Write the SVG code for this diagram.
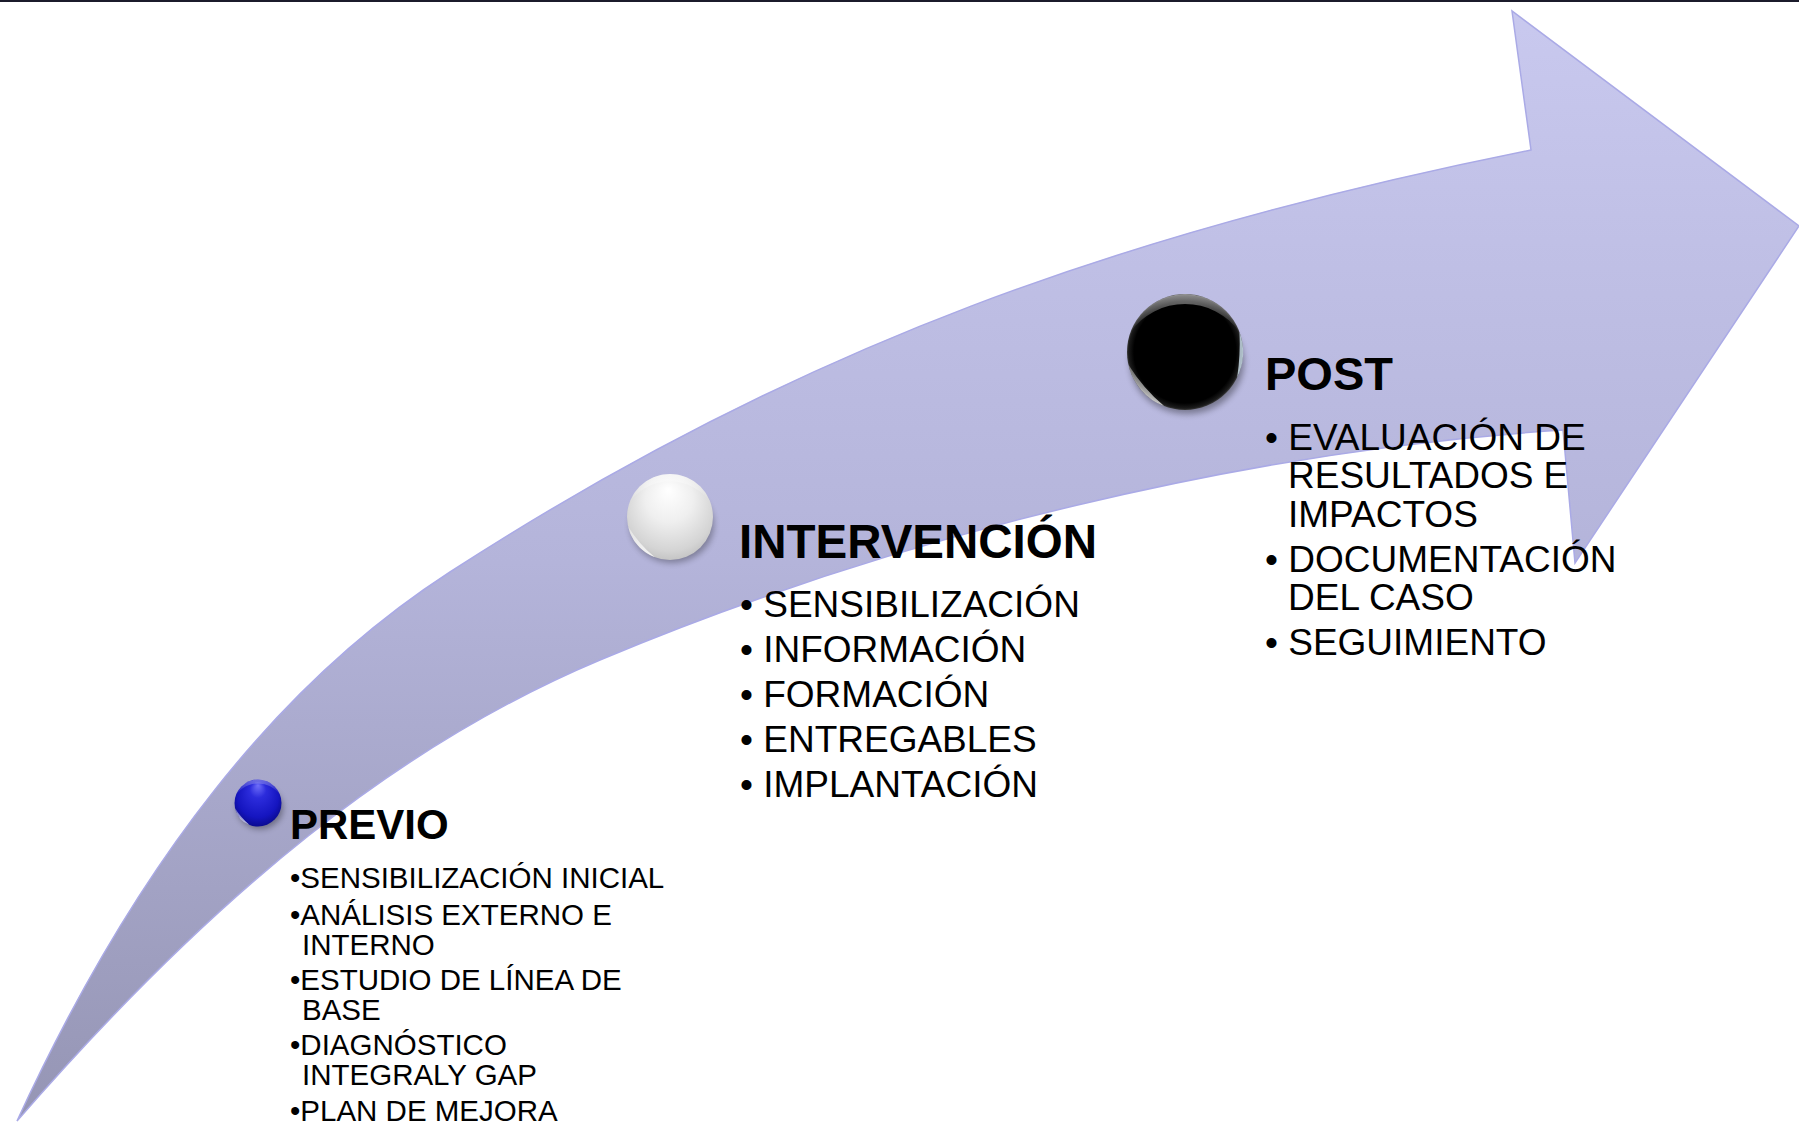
<svg xmlns="http://www.w3.org/2000/svg" width="1799" height="1124" viewBox="0 0 1799 1124">
<defs>
<style>
text{font-family:"Liberation Sans",Arial,sans-serif;fill:#000}
.title{font-weight:bold}
.b1{font-size:29.5px}
.b2{font-size:37px}
.glint{fill:#fff}
</style>
<linearGradient id="gBand" gradientUnits="userSpaceOnUse" x1="0" y1="0" x2="0" y2="1124">
<stop offset="0" stop-color="#c9c9ef"/>
<stop offset="0.5" stop-color="#b4b4da"/>
<stop offset="1" stop-color="#9595b4"/>
</linearGradient>
<radialGradient id="gBlue" cx="50%" cy="45%" r="58%" fx="50%" fy="12%">
<stop offset="0" stop-color="#7070fa"/>
<stop offset="0.3" stop-color="#2c2cdc"/>
<stop offset="0.75" stop-color="#1515c0"/>
<stop offset="1" stop-color="#09098a"/>
</radialGradient>
<radialGradient id="gWhite" cx="50%" cy="40%" r="62%" fx="48%" fy="18%">
<stop offset="0" stop-color="#ffffff"/>
<stop offset="0.45" stop-color="#efefef"/>
<stop offset="0.85" stop-color="#d4d4d4"/>
<stop offset="1" stop-color="#c2c2c2"/>
</radialGradient>
<radialGradient id="gBlack" cx="50%" cy="50%" r="50%">
<stop offset="0" stop-color="#000"/>
<stop offset="0.88" stop-color="#000"/>
<stop offset="0.97" stop-color="#1a1a1a"/>
<stop offset="1" stop-color="#3a3a3a"/>
</radialGradient>
<linearGradient id="gRim" x1="0" y1="0" x2="0" y2="1">
<stop offset="0" stop-color="#ffffff" stop-opacity="0.55"/>
<stop offset="1" stop-color="#ffffff" stop-opacity="0"/>
</linearGradient>
<linearGradient id="gGlint" x1="0" y1="1" x2="0.3" y2="0">
<stop offset="0" stop-color="#ffffff" stop-opacity="1"/>
<stop offset="1" stop-color="#ffffff" stop-opacity="0.3"/>
</linearGradient>
<filter id="shadow" x="-50%" y="-50%" width="200%" height="200%">
<feGaussianBlur stdDeviation="3"/>
</filter>
<path id="glintShape" d="M -0.975,0.22 A 1 1 0 0 0 -0.36,0.933 A 3 3 0 0 1 -0.975,0.22 Z"/>
<path id="rimTop" d="M -0.94,-0.342 A 1 1 0 0 1 0.94,-0.342 A 1.15 1.15 0 0 0 -0.94,-0.342 Z"/>
<path id="rimRight" d="M 0.94,-0.342 A 1 1 0 0 1 0.9,0.436 A 4 4 0 0 0 0.94,-0.342 Z"/>
</defs>

<rect x="0" y="0" width="1799" height="1124" fill="#ffffff"/>
<rect x="0" y="0" width="1799" height="2" fill="#1b1b2b"/>

<g id="connectors">
<path id="arrow" d="M 17,1121 C 137,860 280,682 450,572 C 800,345 1131,230 1531,150 L 1512,11 L 1799,226 L 1575,563 L 1563,430 C 1250,450 900,534 600,660 C 400,744 217,891 17,1121 Z" fill="url(#gBand)" stroke="#aaaae6" stroke-width="1.5" stroke-linejoin="miter"/>
</g>

<g id="node-previo">
<ellipse cx="260" cy="808" rx="23" ry="21" fill="#000" opacity="0.35" filter="url(#shadow)"/>
<circle cx="258" cy="803" r="23.5" fill="url(#gBlue)"/>
<use href="#glintShape" transform="translate(258,803) scale(23.5)" fill="url(#gGlint)" opacity="0.9"/>
<use href="#rimTop" transform="translate(258,803) scale(23.5)" fill="url(#gRim)" opacity="0.6"/>
<text class="title" x="290" y="839" font-size="42">PREVIO</text>
<text class="b1" x="290" y="888">•SENSIBILIZACIÓN INICIAL</text>
<text class="b1" x="290" y="925">•ANÁLISIS EXTERNO E</text>
<text class="b1" x="302" y="955">INTERNO</text>
<text class="b1" x="290" y="990">•ESTUDIO DE LÍNEA DE</text>
<text class="b1" x="302" y="1020">BASE</text>
<text class="b1" x="290" y="1055">•DIAGNÓSTICO</text>
<text class="b1" x="302" y="1085">INTEGRALY GAP</text>
<text class="b1" x="290" y="1121">•PLAN DE MEJORA</text>
</g>

<g id="node-intervencion">
<ellipse cx="672" cy="525" rx="42" ry="38" fill="#000" opacity="0.3" filter="url(#shadow)"/>
<circle cx="670" cy="517" r="43" fill="url(#gWhite)"/>
<use href="#glintShape" transform="translate(670,517) scale(43)" fill="url(#gGlint)"/>
<use href="#rimTop" transform="translate(670,517) scale(43)" fill="url(#gRim)" opacity="0.8"/>
<text class="title" x="739" y="558" font-size="47.5">INTERVENCIÓN</text>
<text class="b2" x="740" y="617">• SENSIBILIZACIÓN</text>
<text class="b2" x="740" y="662">• INFORMACIÓN</text>
<text class="b2" x="740" y="707">• FORMACIÓN</text>
<text class="b2" x="740" y="752">• ENTREGABLES</text>
<text class="b2" x="740" y="797">• IMPLANTACIÓN</text>
</g>

<g id="node-post">
<ellipse cx="1187" cy="362" rx="57" ry="52" fill="#000" opacity="0.35" filter="url(#shadow)"/>
<circle cx="1185" cy="352" r="58" fill="url(#gBlack)"/>
<use href="#rimTop" transform="translate(1185,352) scale(58)" fill="url(#gRim)" opacity="0.9"/>
<use href="#rimRight" transform="translate(1185,352) scale(58)" fill="#cfe4f0" opacity="0.8"/>
<use href="#glintShape" transform="translate(1185,352) scale(58)" fill="url(#gGlint)" opacity="0.9"/>
<text class="title" x="1265" y="390" font-size="47">POST</text>
<text class="b2" x="1265" y="450">• EVALUACIÓN DE</text>
<text class="b2" x="1288" y="488">RESULTADOS E</text>
<text class="b2" x="1288" y="527">IMPACTOS</text>
<text class="b2" x="1265" y="572">• DOCUMENTACIÓN</text>
<text class="b2" x="1288" y="610">DEL CASO</text>
<text class="b2" x="1265" y="655">• SEGUIMIENTO</text>
</g>
</svg>
